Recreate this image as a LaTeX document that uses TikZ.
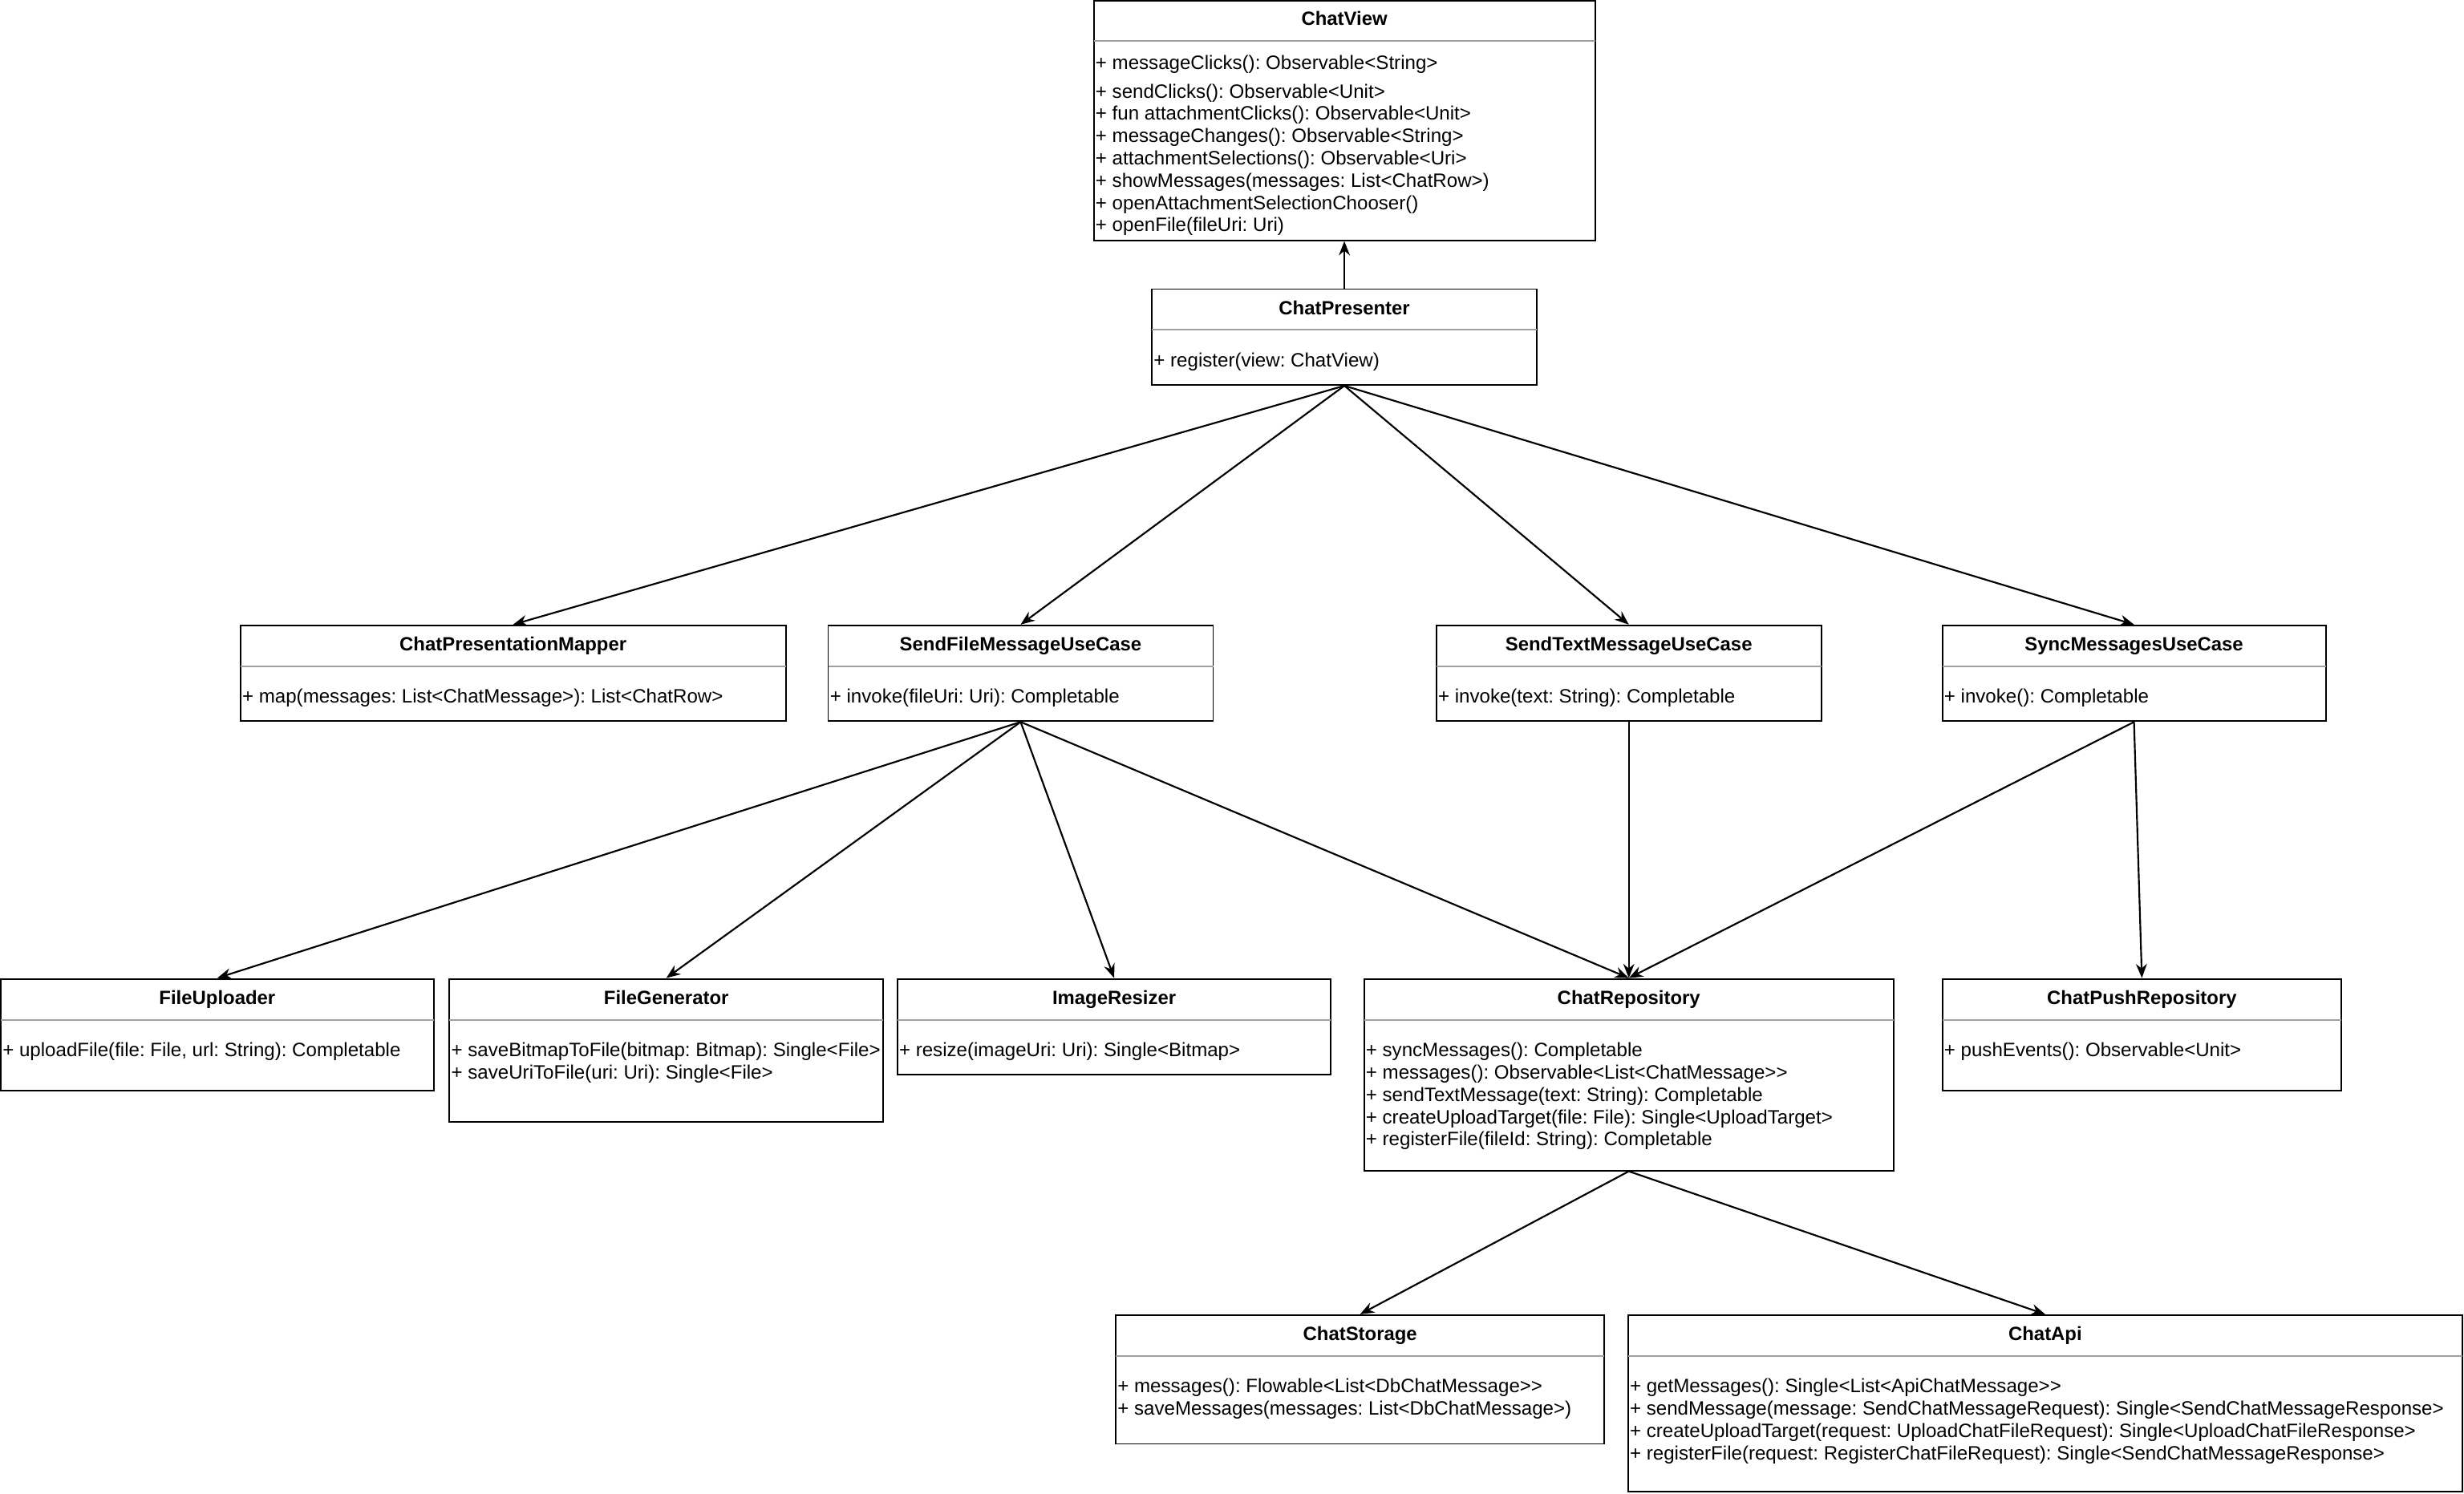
\documentclass[tikz,border=0pt]{standalone}
\usepackage{fontspec}
\newfontfamily\umlfont{Liberation Sans}
\usetikzlibrary{arrows.meta}
\definecolor{divgray}{HTML}{A0A0A0}
\frenchspacing
\tikzset{
  clsbox/.style={draw=black, line width=1pt, fill=white, rectangle, inner sep=0pt},
  clstitle/.style={font=\umlfont\fontsize{12.2}{14.4}\selectfont\bfseries, inner sep=0pt},
  clsbody/.style={font=\umlfont\fontsize{12.3}{14.4}\selectfont\frenchspacing, inner xsep=1pt, inner ysep=0pt},
  divider/.style={draw=divgray, line width=1pt},
  dep/.style={draw=black, line width=1.1pt, -{Stealth[length=9pt,width=7pt]}},
}
% #1 id, #2 left, #3 top, #4 right, #5 bottom, #6 title, #7 lines
\newcommand{\umlclass}[7]{%
  \node[clsbox, minimum width={#4-#2}, minimum height={#5-#3}] (#1) at ({(#2+#4)/2},{(#3+#5)/2}) {};
  \node[clstitle, anchor=base] (#1-t) at ({(#2+#4)/2},{#3+16.3}) {#6};
  \draw[divider] (#2,{#3+26}) -- (#4,{#3+26});
  \foreach \clsline [count=\k] in {#7} {
    \node[clsbody, anchor=base west] (#1-l\k) at (#2,{#3+49.5+(\k-1)*14.2}) {\clsline};
  }
}
\begin{document}
\begin{tikzpicture}[x=1pt,y=-1pt]
\useasboundingbox (0,0) rectangle (1568,950.4);

% ChatView (first line has extra gap)
\node[clsbox, minimum width=319, minimum height=152.5] (view) at (855.5,76.75) {};
\node[clstitle, anchor=base] (view-t) at (855.5,16.3) {ChatView};
\draw[divider] (696,26) -- (1015,26);
\node[clsbody, anchor=base west] (view-l0) at (696,44.3) {+ messageClicks(): Observable<String>};
\foreach \clsline [count=\k] in {%
  + sendClicks(): Observable<Unit>,
  + fun attachmentClicks(): Observable<Unit>,
  + messageChanges(): Observable<String>,
  + attachmentSelections(): Observable<Uri>,
  + showMessages(messages: List<ChatRow>),
  + openAttachmentSelectionChooser(),
  + openFile(fileUri: Uri)} {
  \node[clsbody, anchor=base west] (view-l\k) at (696,{62.3+(\k-1)*14.2}) {\clsline};
}

\umlclass{presenter}{733}{184}{978}{245}{ChatPresenter}{+ register(view: ChatView)}
\umlclass{mapper}{153}{398}{500}{459}{ChatPresentationMapper}{+ map(messages: List<ChatMessage>): List<ChatRow>}
\umlclass{sendfile}{527}{398}{772}{459}{SendFileMessageUseCase}{+ invoke(fileUri: Uri): Completable}
\umlclass{sendtext}{914}{398}{1159}{459}{SendTextMessageUseCase}{+ invoke(text: String): Completable}
\umlclass{sync}{1236}{398}{1480}{459}{SyncMessagesUseCase}{+ invoke(): Completable}

\umlclass{uploader}{0.5}{623}{276}{694}{FileUploader}{{+ uploadFile(file: File, url: String): Completable}}
\umlclass{generator}{286}{623}{562}{714}{FileGenerator}{+ saveBitmapToFile(bitmap: Bitmap): Single<File>, + saveUriToFile(uri: Uri): Single<File>}
\umlclass{resizer}{571}{623}{847}{684}{ImageResizer}{+ resize(imageUri: Uri): Single<Bitmap>}
\umlclass{repo}{868}{623}{1205}{745}{ChatRepository}{+ syncMessages(): Completable, + messages(): Observable<List<ChatMessage>>, + sendTextMessage(text: String): Completable, + createUploadTarget(file: File): Single<UploadTarget>, + registerFile(fileId: String): Completable}
\umlclass{push}{1236}{623}{1490}{694}{ChatPushRepository}{+ pushEvents(): Observable<Unit>}

\umlclass{storage}{710}{837}{1021}{919}{ChatStorage}{+ messages(): Flowable<List<DbChatMessage>>, + saveMessages(messages: List<DbChatMessage>)}
\umlclass{api}{1036}{837}{1567}{949.5}{ChatApi}{+ getMessages(): Single<List<ApiChatMessage>>, + sendMessage(message: SendChatMessageRequest): Single<SendChatMessageResponse>, + createUploadTarget(request: UploadChatFileRequest): Single<UploadChatFileResponse>, + registerFile(request: RegisterChatFileRequest): Single<SendChatMessageResponse>}

% connectors
\draw[dep] (presenter.north) -- (view.south);
\draw[dep] (presenter.south) -- (mapper.north);
\draw[dep] (presenter.south) -- (sendfile.north);
\draw[dep] (presenter.south) -- (sendtext.north);
\draw[dep] (presenter.south) -- (sync.north);
\draw[dep] (sendfile.south) -- (uploader.north);
\draw[dep] (sendfile.south) -- (generator.north);
\draw[dep] (sendfile.south) -- (resizer.north);
\draw[dep] (sendfile.south) -- (repo.north);
\draw[dep] (sendtext.south) -- (repo.north);
\draw[dep] (sync.south) -- (repo.north);
\draw[dep] (sync.south) -- (push.north);
\draw[dep] (repo.south) -- (storage.north);
\draw[dep] (repo.south) -- (api.north);
\end{tikzpicture}
\end{document}
